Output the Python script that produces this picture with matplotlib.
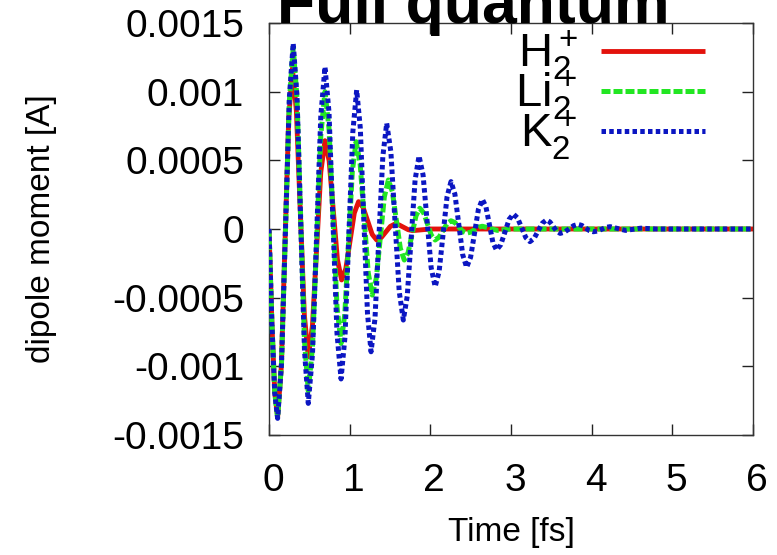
import numpy as np
import matplotlib
matplotlib.use("Agg")
import matplotlib.pyplot as plt
from matplotlib.ticker import FuncFormatter
from matplotlib.transforms import ScaledTranslation

plt.rcParams['font.family'] = ['Liberation Sans', 'DejaVu Sans']
plt.rcParams['mathtext.fontset'] = 'custom'
plt.rcParams['mathtext.rm'] = 'Liberation Sans'
plt.rcParams['mathtext.it'] = 'Liberation Sans:italic'
plt.rcParams['mathtext.bf'] = 'Liberation Sans:bold'

SCALE = 1e-3  # values below are in units of 1e-3 A

# H2+
t_h2 = [0, 0.036, 0.071, 0.107, 0.153, 0.1985, 0.244, 0.29, 0.339, 0.3885, 0.438, 0.487,
        0.539, 0.5905, 0.642, 0.694, 0.7455, 0.797, 0.8485, 0.90, 0.9525, 1.005, 1.0575, 1.11,
        1.166, 1.2225, 1.279, 1.335, 1.391, 1.4475, 1.504, 1.56, 1.615, 1.67, 1.725, 1.78,
        2.0, 6.0]
v_h2 = [0, -0.685, -1.186, -1.37, -0.999, -0.10, 0.799, 1.17, 0.863, 0.12, -0.623, -0.93,
        -0.700, -0.144, 0.413, 0.643, 0.495, 0.136, -0.223, -0.371, -0.288, -0.086, 0.116, 0.199,
        0.158, 0.06, -0.039, -0.080, -0.063, -0.022, 0.019, 0.036, 0.029, 0.012, -0.005, -0.012,
        0.0, 0.0]

# Li2+
t_li2 = [0, 0.036, 0.071, 0.107, 0.155, 0.2035, 0.252, 0.30, 0.347, 0.3935, 0.440, 0.487,
         0.539, 0.5905, 0.642, 0.694, 0.744, 0.7935, 0.843, 0.893, 0.940, 0.9865, 1.033, 1.08,
         1.13, 1.18, 1.23, 1.28, 1.33, 1.38, 1.43, 1.48, 1.529, 1.5785, 1.628, 1.677,
         1.725, 1.7735, 1.822, 1.87, 1.9175, 1.965, 2.0125, 2.06, 2.109, 2.158, 2.207, 2.256,
         2.3045, 2.353, 2.4015, 2.45, 2.499, 2.5475, 2.596, 2.645, 2.7375, 2.83, 3.0, 6.0]
v_li2 = [0, -0.688, -1.191, -1.375, -0.981, -0.028, 0.926, 1.32, 0.955, 0.07, -0.815, -1.18,
         -0.862, -0.09, 0.682, 1.00, 0.732, 0.084, -0.565, -0.833, -0.618, -0.099, 0.421, 0.636,
         0.473, 0.078, -0.318, -0.481, -0.359, -0.062, 0.235, 0.357, 0.272, 0.066, -0.141, -0.226,
         -0.171, -0.038, 0.096, 0.151, 0.117, 0.036, -0.046, -0.08, -0.059, -0.01, 0.039, 0.06,
         0.047, 0.015, -0.017, -0.03, -0.023, -0.005, 0.013, 0.02, 0.005, -0.01, 0.0, 0.0]

# K2+
t_k2 = [0, 0.036, 0.071, 0.107, 0.155, 0.2035, 0.252, 0.300, 0.347, 0.3935, 0.440, 0.487,
        0.539, 0.5905, 0.642, 0.694, 0.744, 0.7935, 0.843, 0.893, 0.942, 0.990, 1.039, 1.087,
        1.132, 1.176, 1.221, 1.265, 1.314, 1.362, 1.411, 1.459, 1.511, 1.562, 1.614, 1.665,
        1.714, 1.7625, 1.811, 1.860, 1.91, 1.96, 2.01, 2.060, 2.109, 2.158, 2.207, 2.256,
        2.3045, 2.353, 2.4015, 2.450, 2.499, 2.5475, 2.596, 2.645, 2.689, 2.7325, 2.776, 2.820,
        2.8725, 2.925, 2.9775, 3.030, 3.081, 3.1325, 3.184, 3.235, 3.286, 3.3375, 3.389, 3.440,
        3.4825, 3.525, 3.5675, 3.610, 3.665, 3.72, 3.775, 3.830, 3.8775, 3.925, 3.9725, 4.020,
        4.0725, 4.125, 4.1775, 4.230, 4.325, 4.42, 4.515, 4.61, 4.8, 6.0]
v_k2 = [0, -0.69, -1.194, -1.379, -0.980, -0.0135, 0.953, 1.352, 0.969, 0.041, -0.887, -1.27,
        -0.912, -0.045, 0.822, 1.18, 0.848, 0.044, -0.761, -1.092, -0.785, -0.040, 0.705, 1.012,
        0.734, 0.059, -0.616, -0.894, -0.651, -0.062, 0.527, 0.770, 0.561, 0.054, -0.454, -0.663,
        -0.488, -0.066, 0.357, 0.532, 0.393, 0.056, -0.281, -0.42, -0.309, -0.038, 0.234, 0.345,
        0.254, 0.033, -0.188, -0.279, -0.206, -0.032, 0.143, 0.216, 0.162, 0.032, -0.099, -0.153,
        -0.115, -0.022, 0.071, 0.109, 0.080, 0.0085, -0.063, -0.092, -0.069, -0.013, 0.043, 0.066,
        0.051, 0.017, -0.017, -0.032, -0.022, 0.001, 0.024, 0.034, 0.026, 0.007, -0.012, -0.020,
        -0.015, -0.0015, 0.012, 0.017, 0.003, -0.010, -0.002, 0.006, 0.0, 0.0]

series_labels = [r'H$_2^+$', r'Li$_2^+$', r'K$_2^+$']
x_ticks = [0, 1, 2, 3, 4, 5, 6]
y_ticks = [-0.0015, -0.001, -0.0005, 0, 0.0005, 0.001, 0.0015]

W, H = 777, 555
fig = plt.figure(figsize=(W / 100, H / 100), dpi=100)
L, R, T, B = 269, 753, 23, 435
ax = fig.add_axes([L / W, 1 - B / H, (R - L) / W, (B - T) / H])

red = '#e3120c'
green = '#22e622'
blue = '#0b16c2'

ax.plot(t_h2, np.array(v_h2) * SCALE, color=red, lw=3.5, solid_capstyle='butt',
        label=series_labels[0], zorder=2)
ax.plot(t_li2, np.array(v_li2) * SCALE, color=green, lw=3.6, dashes=(1.8, 0.6),
        dash_capstyle='butt', label=series_labels[1], zorder=3)
ax.plot(t_k2, np.array(v_k2) * SCALE, color=blue, lw=3.6, dashes=(0.9, 0.65),
        dash_capstyle='butt', label=series_labels[2], zorder=4)

ax.set_xlim(0, 6)
ax.set_ylim(-0.0015, 0.0015)
ax.set_xticks(x_ticks)
ax.set_yticks(y_ticks)
ax.yaxis.set_major_formatter(FuncFormatter(lambda v, p: '%g' % v))
ax.xaxis.set_major_formatter(FuncFormatter(lambda v, p: '%g' % v))
ax.tick_params(direction='in', top=True, right=True, length=8, width=1,
               labelsize=28, color='#222222')
ax.tick_params(axis='x', pad=20)
ax.tick_params(axis='y', pad=18)
offset = ScaledTranslation(4 / 100, 0, fig.dpi_scale_trans)
for lab in ax.get_xticklabels():
    lab.set_transform(lab.get_transform() + offset)
for s in ax.spines.values():
    s.set_linewidth(1.0)
    s.set_color('#333333')

ax.set_xlabel('Time [fs]', fontsize=24, va='center')
ax.xaxis.set_label_coords(0.5, (B - 532) / (B - T))
ax.set_ylabel('dipole moment [A]', fontsize=24, va='center')
ax.yaxis.set_label_coords((42 - L) / (R - L), 0.5)

leg = ax.legend(loc='upper right', bbox_to_anchor=((705 - L) / (R - L), (B - 29) / (B - T)),
                frameon=False, markerfirst=False, fontsize=34, handlelength=2.2,
                handletextpad=0.5, labelspacing=-0.28, borderpad=0, borderaxespad=0)

fig.text(473 / W, 1 - 23 / H, 'Full quantum', ha='center', va='baseline',
         fontsize=45, fontweight='bold')

fig.savefig('out.png', dpi=100)
